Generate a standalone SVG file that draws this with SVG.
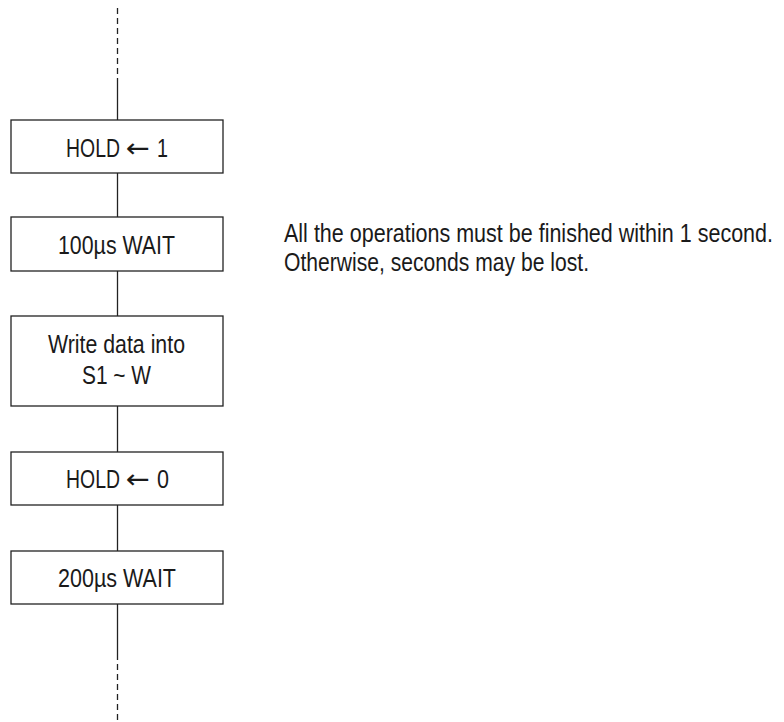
<svg xmlns="http://www.w3.org/2000/svg" width="784" height="722" viewBox="0 0 784 722">
<style>
.box{fill:#fff;stroke:#222;stroke-width:1.3}
.ln{stroke:#222;stroke-width:1.3;fill:none}
.dash{stroke:#222;stroke-width:1.3;fill:none;stroke-dasharray:6 4}
text{font-family:"Liberation Sans",Arial,sans-serif;font-size:26px;fill:#1a1a1a}
.ar{font-family:"DejaVu Sans",sans-serif;font-size:26px;font-weight:normal}
</style>
<rect width="784" height="722" fill="#fff"/>
<g id="connectors">
<line class="dash" x1="117.5" y1="8" x2="117.5" y2="82"/>
<line class="ln" x1="117.5" y1="82" x2="117.5" y2="120"/>
<line class="ln" x1="117.5" y1="173" x2="117.5" y2="217"/>
<line class="ln" x1="117.5" y1="271" x2="117.5" y2="316"/>
<line class="ln" x1="117.5" y1="406" x2="117.5" y2="452"/>
<line class="ln" x1="117.5" y1="505" x2="117.5" y2="551"/>
<line class="ln" x1="117.5" y1="604" x2="117.5" y2="654"/>
<line class="dash" x1="117.5" y1="654" x2="117.5" y2="722"/>
</g>
<g id="hold1">
<rect class="box" x="11" y="120" width="212" height="53"/>
<text y="157"><tspan x="66" textLength="54" lengthAdjust="spacingAndGlyphs">HOLD</tspan><tspan x="126" class="ar" textLength="24" lengthAdjust="spacingAndGlyphs">←</tspan><tspan x="157" textLength="11" lengthAdjust="spacingAndGlyphs">1</tspan></text>
</g>
<g id="wait100">
<rect class="box" x="11" y="217" width="212" height="54"/>
<text x="58" y="254" textLength="117" lengthAdjust="spacingAndGlyphs">100µs WAIT</text>
</g>
<g id="write">
<rect class="box" x="11" y="316" width="212" height="90"/>
<text x="48" y="353" textLength="137" lengthAdjust="spacingAndGlyphs">Write data into</text>
<text x="82" y="384" textLength="69" lengthAdjust="spacingAndGlyphs">S1 ~ W</text>
</g>
<g id="hold0">
<rect class="box" x="11" y="452" width="212" height="53"/>
<text y="488"><tspan x="66" textLength="54" lengthAdjust="spacingAndGlyphs">HOLD</tspan><tspan x="126" class="ar" textLength="24" lengthAdjust="spacingAndGlyphs">←</tspan><tspan x="157" textLength="12" lengthAdjust="spacingAndGlyphs">0</tspan></text>
</g>
<g id="wait200">
<rect class="box" x="11" y="551" width="212" height="53"/>
<text x="58" y="587" textLength="118" lengthAdjust="spacingAndGlyphs">200µs WAIT</text>
</g>
<g id="note">
<text x="284" y="242" textLength="489" lengthAdjust="spacingAndGlyphs">All the operations must be finished within 1 second.</text>
<text x="284" y="271" textLength="305" lengthAdjust="spacingAndGlyphs">Otherwise, seconds may be lost.</text>
</g>
</svg>
